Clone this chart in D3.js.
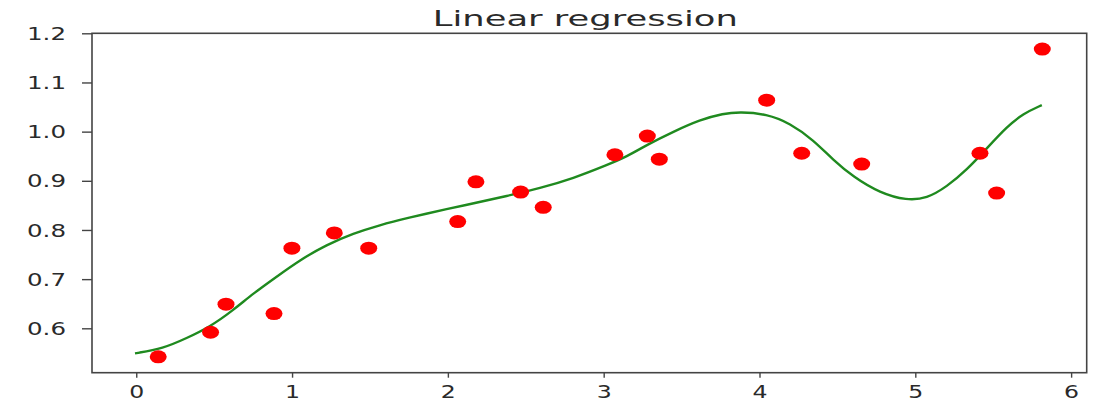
<!DOCTYPE html>
<html>
<head>
<meta charset="utf-8">
<script src="https://cdn.jsdelivr.net/npm/d3@7"></script>
<style>
  body { margin: 0; background: #fff; }
  text { font-family: "DejaVu Sans", sans-serif; fill: #2a2a2a; }
</style>
</head>
<body>
<script>
// scattered observations
var pointX = [0.141, 0.477, 0.576, 0.884, 0.999, 1.271, 1.492, 2.063, 2.180, 2.467,
              2.612, 3.072, 3.280, 3.357, 4.046, 4.271, 4.656, 5.415, 5.522, 5.815];
var pointY = [0.542, 0.592, 0.649, 0.630, 0.763, 0.794, 0.763, 0.817, 0.898, 0.877,
              0.846, 0.953, 0.991, 0.944, 1.064, 0.956, 0.934, 0.956, 0.875, 1.168];

// fitted curve
var fitX = [-0.008, 0.173, 0.323, 0.473, 0.623, 0.751, 0.901, 1.051, 1.222, 1.393, 1.563, 1.735,
            2.013, 2.163, 2.377, 2.591, 2.805, 3.020, 3.148, 3.277, 3.448, 3.618, 3.768, 3.875,
            4.046, 4.196, 4.346, 4.474, 4.602, 4.774, 4.945, 5.074, 5.202, 5.330, 5.459, 5.587, 5.694, 5.812];
var fitY = [0.549, 0.559, 0.580, 0.603, 0.637, 0.671, 0.705, 0.739, 0.770, 0.793, 0.810, 0.824,
            0.844, 0.854, 0.869, 0.885, 0.905, 0.932, 0.949, 0.973, 1.000, 1.024, 1.037, 1.040,
            1.036, 1.017, 0.983, 0.942, 0.908, 0.875, 0.860, 0.864, 0.888, 0.922, 0.966, 1.010, 1.037, 1.054];

var xTicks = [0, 1, 2, 3, 4, 5, 6];
var yTicks = [0.6, 0.7, 0.8, 0.9, 1.0, 1.1, 1.2];
var title = "Linear regression";

var w = 1101, h = 402;
/* plot box edges in pixels */
var boxL = 92, boxR = 1086.7, boxT = 33.3, boxB = 372.7;

var svg = d3.select("body").append("svg")
    .attr("width", w)
    .attr("height", h);

var x = d3.scaleLinear().domain([-0.284, 6.10]).range([boxL, boxR]);
var y = d3.scaleLinear().domain([0.5097, 1.2]).range([boxB, boxT]);

/* axes */
var gx = svg.append("g")
    .attr("transform", "translate(0," + boxB + ")")
    .call(d3.axisBottom(x).tickValues(xTicks).tickFormat(d3.format("d"))
        .tickSize(5).tickSizeOuter(0).tickPadding(8));
gx.selectAll("text")
    .style("font-size", "18px")
    .attr("textLength", 15).attr("lengthAdjust", "spacingAndGlyphs");

var gy = svg.append("g")
    .attr("transform", "translate(" + boxL + ",0)")
    .call(d3.axisLeft(y).tickValues(yTicks).tickFormat(d3.format(".1f"))
        .tickSize(10).tickSizeOuter(0).tickPadding(16));
gy.selectAll("text")
    .style("font-size", "18px")
    .attr("dy", "0.34em")
    .attr("textLength", 39).attr("lengthAdjust", "spacingAndGlyphs");

svg.selectAll(".domain").remove();
svg.selectAll(".tick line").attr("stroke", "#444").attr("stroke-width", 1.4);

/* frame */
svg.append("rect")
    .attr("x", boxL).attr("y", boxT)
    .attr("width", boxR - boxL).attr("height", boxB - boxT)
    .attr("fill", "none").attr("stroke", "#444").attr("stroke-width", 1.6);

/* fitted curve */
var fit = fitX.map(function(d, i) { return [d, fitY[i]]; });
svg.append("path")
    .datum(fit)
    .attr("fill", "none")
    .attr("stroke", "#1f8a1f")
    .attr("stroke-width", 2.4)
    .attr("d", d3.line()
        .x(function(d) { return x(d[0]); })
        .y(function(d) { return y(d[1]); })
        .curve(d3.curveBasis));

/* points */
svg.selectAll(".pt")
    .data(pointX)
    .enter()
    .append("ellipse")
        .attr("cx", function(d) { return x(d); })
        .attr("cy", function(d, i) { return y(pointY[i]); })
        .attr("rx", 8.5)
        .attr("ry", 6.5)
        .attr("fill", "#ff0000");

/* title */
svg.append("text")
    .attr("x", (boxL + boxR) / 2 - 4)
    .attr("y", 26)
    .attr("text-anchor", "middle")
    .style("font-size", "21px")
    .attr("textLength", 305).attr("lengthAdjust", "spacingAndGlyphs")
    .text(title);
</script>
</body>
</html>
